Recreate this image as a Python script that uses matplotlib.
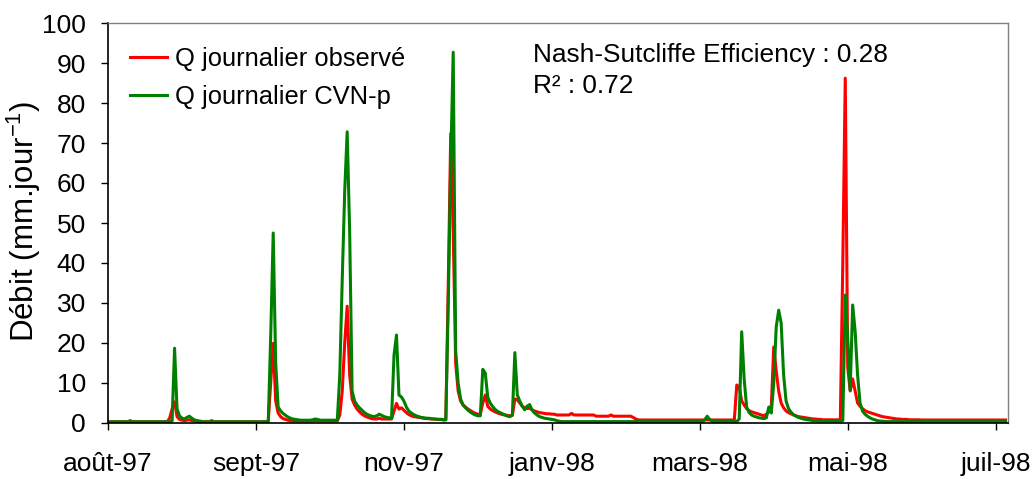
import matplotlib
matplotlib.use('Agg')
import matplotlib.pyplot as plt

plt.rcParams['font.family'] = ['Liberation Sans', 'DejaVu Sans']
plt.rcParams['mathtext.fontset'] = 'custom'
plt.rcParams['mathtext.rm'] = 'Liberation Sans'

# Axe des x : jours depuis le 1er août 1997, un repère tous les 60 jours
tick_days = [0, 60, 120, 180, 240, 300, 360]
tick_labels = ['août-97', 'sept-97', 'nov-97', 'janv-98', 'mars-98', 'mai-98', 'juil-98']
y_ticks = [0, 10, 20, 30, 40, 50, 60, 70, 80, 90, 100]

# Débit journalier observé (mm/jour), du 01/08/1997 au 31/07/1998
q_obs = [
    0.3, 0.3, 0.3, 0.3, 0.3, 0.3, 0.3, 0.3, 0.3, 0.6,
    0.3, 0.3, 0.3, 0.3, 0.3, 0.3, 0.3, 0.3, 0.3, 0.3,
    0.3, 0.3, 0.3, 0.3, 0.3, 1.2, 3.5, 5.3, 1.6, 0.9,
    0.7, 0.6, 0.7, 0.8, 0.6, 0.5, 0.4, 0.3, 0.3, 0.3,
    0.3, 0.3, 0.6, 0.3, 0.3, 0.3, 0.3, 0.3, 0.3, 0.3,
    0.3, 0.3, 0.3, 0.3, 0.3, 0.3, 0.3, 0.3, 0.3, 0.3,
    0.3, 0.3, 0.3, 0.3, 0.3, 0.5, 10.0, 19.9, 5.5, 2.5,
    1.6, 1.1, 0.9, 0.7, 0.6, 0.5, 0.5, 0.5, 0.5, 0.5,
    0.5, 0.5, 0.5, 0.5, 0.6, 0.6, 0.5, 0.5, 0.5, 0.5,
    0.5, 0.5, 0.5, 0.5, 2.0, 8.0, 20.0, 29.2, 12.0, 6.0,
    4.5, 3.5, 2.8, 2.2, 1.8, 1.5, 1.3, 1.1, 1.0, 1.0,
    1.2, 1.0, 1.0, 1.0, 1.0, 1.0, 3.0, 4.9, 3.5, 3.8,
    3.2, 2.6, 2.1, 1.8, 1.6, 1.5, 1.4, 1.3, 1.2, 1.1,
    1.1, 1.0, 1.0, 0.9, 0.9, 0.9, 0.8, 0.8, 35.0, 72.4,
    48.0, 15.0, 8.0, 5.5, 4.5, 4.0, 3.5, 3.1, 2.7, 2.4,
    2.2, 2.2, 5.0, 7.0, 4.2, 3.5, 3.1, 2.8, 2.5, 2.3,
    2.1, 2.0, 1.9, 1.8, 1.9, 6.0, 5.8, 5.0, 4.2, 3.8,
    3.6, 3.7, 3.3, 3.0, 2.8, 2.6, 2.5, 2.4, 2.3, 2.3,
    2.2, 2.2, 2.0, 2.0, 2.0, 2.0, 2.0, 2.0, 2.4, 2.0,
    2.0, 2.0, 2.0, 2.0, 2.0, 2.0, 2.0, 2.0, 1.7, 1.7,
    1.7, 1.7, 1.7, 1.7, 2.0, 1.7, 1.7, 1.7, 1.7, 1.7,
    1.7, 1.7, 1.7, 1.4, 1.0, 0.8, 0.75, 0.75, 0.75, 0.75,
    0.75, 0.75, 0.75, 0.75, 0.75, 0.75, 0.75, 0.75, 0.75, 0.75,
    0.75, 0.75, 0.75, 0.75, 0.75, 0.75, 0.75, 0.75, 0.75, 0.75,
    0.75, 0.75, 0.75, 0.8, 0.75, 0.75, 0.75, 0.75, 0.75, 0.75,
    0.75, 0.75, 0.75, 0.75, 0.75, 9.5, 9.0, 5.5, 4.5, 3.6,
    3.1, 2.8, 2.6, 2.4, 2.2, 2.0, 1.8, 2.2, 2.8, 4.0,
    19.0, 13.0, 8.0, 5.0, 3.8, 3.0, 2.6, 2.3, 2.0, 1.8,
    1.6, 1.5, 1.4, 1.3, 1.2, 1.1, 1.0, 1.0, 0.9, 0.9,
    0.8, 0.8, 0.8, 0.8, 0.8, 0.8, 0.8, 0.8, 40.0, 86.2,
    14.0, 8.0, 11.0, 8.0, 5.0, 4.2, 3.6, 3.1, 2.8, 2.6,
    2.4, 2.2, 2.0, 1.8, 1.6, 1.5, 1.4, 1.3, 1.2, 1.1,
    1.0, 1.0, 0.9, 0.9, 0.9, 0.8, 0.8, 0.8, 0.8, 0.8,
    0.75, 0.75, 0.75, 0.75, 0.75, 0.75, 0.75, 0.75, 0.75, 0.75,
    0.75, 0.75, 0.75, 0.75, 0.75, 0.75, 0.75, 0.75, 0.75, 0.75,
    0.75, 0.75, 0.75, 0.75, 0.75, 0.75, 0.75, 0.75, 0.75, 0.75,
    0.75, 0.75, 0.75, 0.75, 0.75,
]

# Débit journalier simulé par CVN-p (mm/jour)
q_cvn = [
    0.3, 0.3, 0.3, 0.3, 0.3, 0.3, 0.3, 0.3, 0.3, 0.3,
    0.3, 0.3, 0.3, 0.3, 0.3, 0.3, 0.3, 0.3, 0.3, 0.3,
    0.3, 0.3, 0.3, 0.3, 0.3, 0.3, 0.5, 18.7, 3.5, 1.8,
    1.2, 1.0, 1.4, 1.7, 1.2, 0.8, 0.6, 0.5, 0.4, 0.3,
    0.3, 0.3, 0.3, 0.3, 0.3, 0.3, 0.3, 0.3, 0.3, 0.3,
    0.3, 0.3, 0.3, 0.3, 0.3, 0.3, 0.3, 0.3, 0.3, 0.3,
    0.3, 0.3, 0.3, 0.3, 0.3, 0.4, 22.0, 47.5, 15.0, 4.0,
    3.0, 2.4, 1.9, 1.5, 1.2, 1.0, 0.9, 0.8, 0.7, 0.7,
    0.7, 0.7, 0.7, 0.8, 1.0, 0.9, 0.7, 0.7, 0.7, 0.7,
    0.7, 0.7, 0.7, 0.7, 12.0, 36.0, 58.0, 72.8, 48.0, 8.0,
    5.5, 4.5, 3.8, 3.2, 2.6, 2.2, 1.9, 1.7, 1.6, 1.8,
    2.2, 1.9, 1.6, 1.4, 1.3, 1.2, 17.0, 22.0, 7.0, 6.5,
    5.5, 4.0, 3.0, 2.5, 2.1, 1.8, 1.6, 1.4, 1.3, 1.2,
    1.2, 1.1, 1.0, 1.0, 0.9, 0.9, 0.8, 0.8, 30.0, 65.0,
    92.7, 18.0, 10.0, 6.0, 4.5, 3.8, 3.2, 2.7, 2.3, 2.0,
    1.8, 1.8, 13.4, 12.5, 6.5, 5.0, 4.1, 3.4, 2.9, 2.6,
    2.3, 2.0, 1.7, 1.6, 2.0, 17.6, 7.0, 5.5, 4.2, 3.3,
    4.2, 4.6, 3.2, 2.5, 2.0, 1.6, 1.4, 1.2, 1.1, 1.0,
    0.9, 0.8, 0.6, 0.45, 0.35, 0.35, 0.35, 0.35, 0.35, 0.35,
    0.35, 0.35, 0.35, 0.35, 0.35, 0.35, 0.35, 0.35, 0.35, 0.35,
    0.35, 0.35, 0.35, 0.35, 0.35, 0.35, 0.35, 0.35, 0.35, 0.35,
    0.35, 0.35, 0.35, 0.35, 0.35, 0.35, 0.35, 0.35, 0.35, 0.35,
    0.35, 0.35, 0.35, 0.35, 0.35, 0.35, 0.35, 0.35, 0.35, 0.35,
    0.35, 0.35, 0.35, 0.35, 0.35, 0.35, 0.35, 0.35, 0.35, 0.35,
    0.35, 0.35, 0.8, 1.7, 0.9, 0.5, 0.35, 0.35, 0.35, 0.35,
    0.35, 0.35, 0.35, 0.35, 0.35, 0.4, 1.0, 22.8, 11.0, 4.0,
    2.6, 2.0, 1.7, 1.5, 1.3, 1.2, 1.1, 1.3, 4.0, 2.5,
    10.0, 24.0, 28.2, 25.0, 12.0, 5.5, 3.6, 2.7, 2.1, 1.7,
    1.4, 1.2, 1.0, 0.9, 0.8, 0.7, 0.6, 0.6, 0.5, 0.5,
    0.5, 0.5, 0.5, 0.5, 0.5, 0.5, 0.5, 0.5, 0.6, 32.0,
    21.0, 8.2, 29.5, 23.0, 12.0, 5.0, 3.0, 2.2, 1.7, 1.3,
    1.0, 0.8, 0.6, 0.5, 0.45, 0.4, 0.35, 0.35, 0.35, 0.35,
    0.35, 0.35, 0.35, 0.35, 0.35, 0.35, 0.35, 0.35, 0.35, 0.35,
    0.35, 0.35, 0.35, 0.35, 0.35, 0.35, 0.35, 0.35, 0.35, 0.35,
    0.35, 0.35, 0.35, 0.35, 0.35, 0.35, 0.35, 0.35, 0.35, 0.35,
    0.35, 0.35, 0.35, 0.35, 0.35, 0.35, 0.35, 0.35, 0.35, 0.35,
    0.35, 0.35, 0.35, 0.35, 0.35,
]

days = list(range(len(q_obs)))

fig = plt.figure(figsize=(10.34, 4.79), dpi=100)
ax = fig.add_axes([108 / 1034, 56 / 479, 900 / 1034, 400 / 479])

ax.plot(days, q_obs, color='#FF0000', linewidth=2.2, label='Q journalier observé')
ax.plot(days, q_cvn, color='#008000', linewidth=2.2, label='Q journalier CVN-p')

ax.set_xlim(0, 365)
ax.set_ylim(0, 100)
ax.set_xticks(tick_days)
ax.set_xticklabels(tick_labels)
ax.set_yticks(y_ticks)
ax.tick_params(direction='out', length=5, width=1, labelsize=19, colors='black')
ax.tick_params(axis='x', pad=16)
ax.tick_params(axis='y', pad=11)

for side in ['top', 'right']:
    ax.spines[side].set_color('#808080')
    ax.spines[side].set_linewidth(1)
for side in ['left', 'bottom']:
    ax.spines[side].set_color('black')
    ax.spines[side].set_linewidth(1.2)

fig.text(24 / 1034, 1 - 221 / 479, r'Débit (mm.jour$^{-1}$)', rotation=90,
         ha='center', va='center', fontsize=22.5)

ax.legend(loc='upper left', bbox_to_anchor=(22 / 900, (423 - 47) / 400),
          frameon=False, fontsize=18.4, handlelength=1.45, handletextpad=0.3,
          labelspacing=0.55, borderpad=0, borderaxespad=0)

ax.text((533 - 108) / 900, (423 - 61.7) / 400, 'Nash-Sutcliffe Efficiency : 0.28',
        transform=ax.transAxes, fontsize=18.9, va='baseline')
ax.text((533 - 108) / 900, (423 - 93.3) / 400, 'R² : 0.72',
        transform=ax.transAxes, fontsize=18.9, va='baseline')

fig.savefig('out.png', dpi=100, facecolor='white')
